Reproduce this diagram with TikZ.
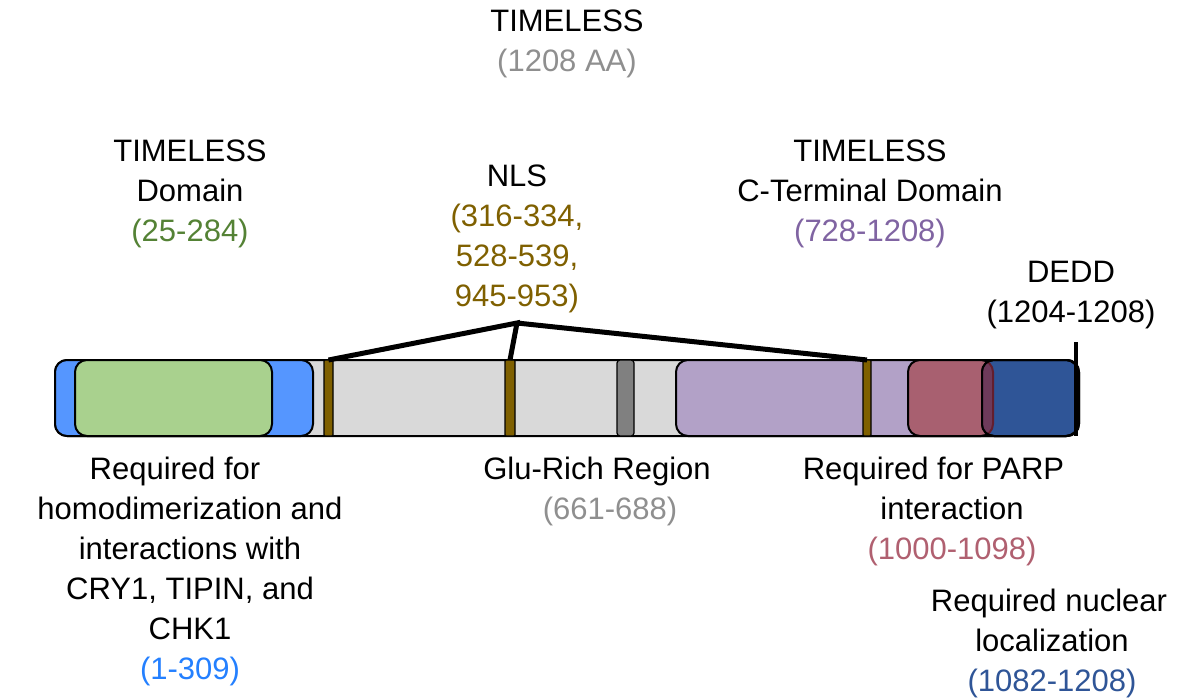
\documentclass[tikz,border=0pt]{standalone}
\usepackage{fontspec}
\setmainfont{Liberation Sans}
\definecolor{barGray}{HTML}{D9D9D9}
\definecolor{lBlue}{RGB}{85,150,255}
\definecolor{lBlueTxt}{RGB}{36,128,255}
\definecolor{dGreen}{HTML}{A9D18E}
\definecolor{greenTxt}{HTML}{548235}
\definecolor{nlsBrown}{HTML}{7F6000}
\definecolor{gluGray}{HTML}{808080}
\definecolor{grayTxt}{HTML}{8F8F8F}
\definecolor{ctdPurple}{HTML}{B2A1C7}
\definecolor{purpleTxt}{HTML}{8064A2}
\definecolor{parpRed}{RGB}{168,96,112}
\definecolor{redTxt}{RGB}{176,96,112}
\definecolor{dBlue}{HTML}{2F5597}
\definecolor{ovl}{RGB}{110,58,90}
\definecolor{ovlEdge}{RGB}{100,30,45}
\begin{document}
\begin{tikzpicture}[x=1pt,y=-1pt,
  dbox/.style={draw=black, line width=2pt, rounded corners=12pt, minimum height=76pt, inner sep=0pt, outer sep=0pt, anchor=north west},
  thinbox/.style={draw=black, line width=1.2pt, rounded corners=1pt, minimum height=76pt, inner sep=0pt, outer sep=0pt, anchor=north west},
  nlsline/.style={line width=5pt},
  lbl/.style={align=center, inner sep=0pt, anchor=north, font=\fontsize{31}{40}\selectfont}]
\useasboundingbox (0,0) rectangle (1192,698);
% bar and domains
\node[dbox, fill=barGray, minimum width=1024pt] (bar) at (55,360) {};
\node[dbox, fill=lBlue, minimum width=258pt] (reqdim) at (55,360) {};
\node[dbox, fill=dGreen, minimum width=197pt] (tdom) at (75,360) {};
\node[thinbox, fill=nlsBrown, minimum width=9pt] (nls1) at (324,360) {};
\node[thinbox, fill=nlsBrown, minimum width=10pt] (nls2) at (505,360) {};
\node[thinbox, fill=gluGray, rounded corners=3pt, minimum width=17pt] (glu) at (617,360) {};
\node[dbox, fill=ctdPurple, minimum width=403pt] (ctd) at (676,360) {};
\node[thinbox, fill=nlsBrown, minimum width=8pt] (nls3) at (863,360) {};
\node[dbox, fill=parpRed, minimum width=85pt] (parp) at (908,360) {};
\node[dbox, fill=dBlue, minimum width=96pt] (nucl) at (982,360) {};
\begin{scope}
  \clip[rounded corners=12pt] (982,360) rectangle (1078,436);
  \fill[ovl, rounded corners=12pt] (908,360) rectangle (993,436);
  \draw[ovlEdge, line width=2pt, rounded corners=12pt] (908,360) rectangle (993,436);
\end{scope}
\draw[line width=2pt, rounded corners=12pt] (982,360) rectangle (1078,436);
% DEDD marker
\coordinate (deddtop) at (1076,342);
\draw[line width=4.5pt] (deddtop) -- (deddtop |- nucl.south);
% NLS connectors
\coordinate (apex) at (517,323);
\draw[nlsline, line join=miter] (nls1.north) -- (apex) -- (nls2.north);
\draw[nlsline] (apex) -- (nls3.north);
% labels
\node[lbl] (ttl) at (567,10) {TIMELESS\\\textcolor{grayTxt}{(1208 AA)}};
\node[lbl] (ltd) at (190,140) {TIMELESS\\Domain\\\textcolor{greenTxt}{(25-284)}};
\node[lbl] (lnls) at (517,165) {NLS\\\textcolor{nlsBrown}{(316-334,}\\\textcolor{nlsBrown}{528-539,}\\\textcolor{nlsBrown}{945-953)}};
\node[lbl] (lctd) at (870,140) {TIMELESS\\C-Terminal Domain\\\textcolor{purpleTxt}{(728-1208)}};
\node[lbl] (ldedd) at (1071,261) {DEDD\\(1204-1208)};
\node[lbl] (lreq) at (190,457) {Required for\hspace*{30pt}\\homodimerization and\\interactions with\\CRY1, TIPIN, and\hspace*{30pt}\\CHK1\hspace*{34pt}\\\textcolor{lBlueTxt}{(1-309)}};
\node[lbl] (lglu) at (610,457) {Glu-Rich Region\hspace*{26pt}\\\textcolor{grayTxt}{(661-688)}};
\node[lbl] (lparp) at (952,457) {Required for PARP\hspace*{37pt}\\interaction\\\textcolor{redTxt}{(1000-1098)}};
\node[lbl] (lnuc) at (1052,589) {Required nuclear\hspace*{6pt}\\localization\\\textcolor{dBlue}{(1082-1208)}};
\end{tikzpicture}
\end{document}
